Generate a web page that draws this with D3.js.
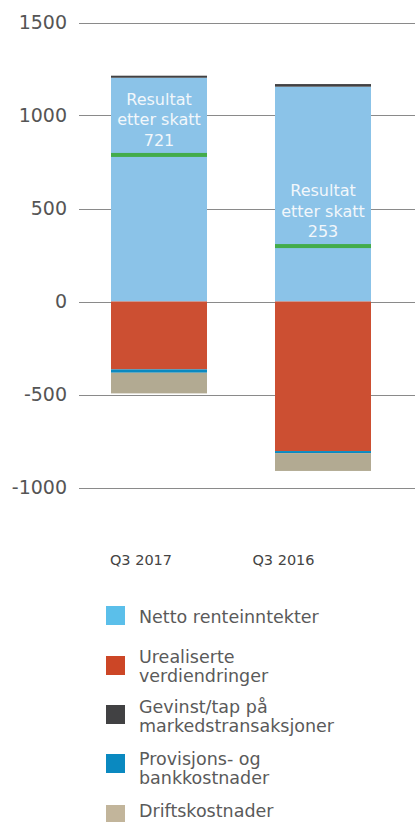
<!DOCTYPE html>
<html>
<head>
  <meta charset="utf-8">
  <script src="https://d3js.org/d3.v7.min.js"></script>
  <style>
    body { margin: 0; background: #fff; font-family: 'DejaVu Sans', sans-serif; }
    .grid line { stroke: #8a8a8a; stroke-width: 1px; }
    .tick-label { fill: #555; font-size: 19px; }
    .cat-label { fill: #444; font-size: 14.5px; }
    .legend text { fill: #5a5a5a; font-size: 17.5px; }
    .result text { fill: #f2f7fb; font-size: 16px; }
  </style>
</head>
<body>
  <div id="chart"></div>
  <script>
    // data
    const categories = ["Q3 2017", "Q3 2016"];
    const seriesNames = ["Netto renteinntekter", "Urealiserte verdiendringer", "Gevinst/tap på markedstransaksjoner", "Provisjons- og bankkostnader", "Driftskostnader"];
    const nettoRente = [1203, 1155];
    const urealiserte = [-365, -804];
    const gevinstTap = [11, 14];
    const provisjon = [-18, -11];
    const drift = [-111, -96];
    const resultLevel = [788, 298];
    const resultLabel = ["721", "253"];
    const yTicks = [1500, 1000, 500, 0, -500, -1000];
    const legendLines = [["Netto renteinntekter"], ["Urealiserte", "verdiendringer"], ["Gevinst/tap på", "markedstransaksjoner"], ["Provisjons- og", "bankkostnader"], ["Driftskostnader"]];

    const barColors = ["#8bc3e8", "#cc4f32", "#414143", "#0a89c0", "#b2aa92"];
    const legendColors = ["#5bbfea", "#cc4626", "#414143", "#0a89c0", "#c2b59b"];

    const width = 415, height = 822;

    const rows = categories.map((c, i) => ({
      cat: c,
      [seriesNames[0]]: nettoRente[i],
      [seriesNames[1]]: urealiserte[i],
      [seriesNames[2]]: gevinstTap[i],
      [seriesNames[3]]: provisjon[i],
      [seriesNames[4]]: drift[i]
    }));

    const stacked = d3.stack()
      .keys(seriesNames)
      .offset(d3.stackOffsetDiverging)(rows);

    const svg = d3.select("#chart").append("svg")
      .attr("width", width)
      .attr("height", height);

    const y = d3.scaleLinear().domain([-1000, 1500]).range([487.5, 22.5]);
    const x = d3.scaleBand().domain(categories).range([111, 371]).paddingInner(0.4146).paddingOuter(0);
    const labelX = d3.scalePoint().domain(categories).range([141, 283.5]);

    // grid + tick labels
    const grid = svg.append("g").attr("class", "grid");
    grid.selectAll("line").data(yTicks).enter().append("line")
      .attr("x1", 79).attr("x2", width)
      .attr("y1", d => Math.round(y(d)) + 0.5)
      .attr("y2", d => Math.round(y(d)) + 0.5);

    svg.append("g").selectAll("text").data(yTicks).enter().append("text")
      .attr("class", "tick-label")
      .attr("x", 67)
      .attr("y", d => y(d) + 6.5)
      .attr("text-anchor", "end")
      .text(d => d);

    // bars
    svg.append("g").selectAll("g").data(stacked).enter().append("g")
      .attr("fill", (d, i) => barColors[i])
      .selectAll("rect").data(d => d).enter().append("rect")
      .attr("x", d => x(d.data.cat))
      .attr("width", x.bandwidth())
      .attr("y", d => y(Math.max(d[0], d[1])))
      .attr("height", d => Math.abs(y(d[0]) - y(d[1])));

    // result marker + label
    const res = svg.append("g").attr("class", "result");
    res.selectAll("rect").data(categories).enter().append("rect")
      .attr("x", d => x(d))
      .attr("width", x.bandwidth())
      .attr("y", (d, i) => y(resultLevel[i]) - 2)
      .attr("height", 4)
      .attr("fill", "#43ac4a");

    categories.forEach((c, i) => {
      const cx = x(c) + x.bandwidth() / 2;
      const base = y(resultLevel[i]) - 9;
      const t = res.append("text").attr("text-anchor", "middle");
      ["Resultat", "etter skatt", resultLabel[i]].forEach((s, j) => {
        t.append("tspan").attr("x", cx).attr("y", base - (2 - j) * 20.5).text(s);
      });
    });

    // category labels
    svg.append("g").selectAll("text").data(categories).enter().append("text")
      .attr("class", "cat-label")
      .attr("x", d => labelX(d))
      .attr("y", 565)
      .attr("text-anchor", "middle")
      .text(d => d);

    // legend
    const legendY = [606, 656, 705, 754, 805];
    const legendTextY = [623, 663, 713, 765, 817];
    const legend = svg.append("g").attr("class", "legend");
    legendLines.forEach((lines, i) => {
      legend.append("rect")
        .attr("x", 106).attr("y", legendY[i])
        .attr("width", 19).attr("height", 19)
        .attr("fill", legendColors[i]);
      const t = legend.append("text");
      lines.forEach((s, j) => {
        t.append("tspan").attr("x", 139).attr("y", legendTextY[i] + j * 19).text(s);
      });
    });
  </script>
</body>
</html>
